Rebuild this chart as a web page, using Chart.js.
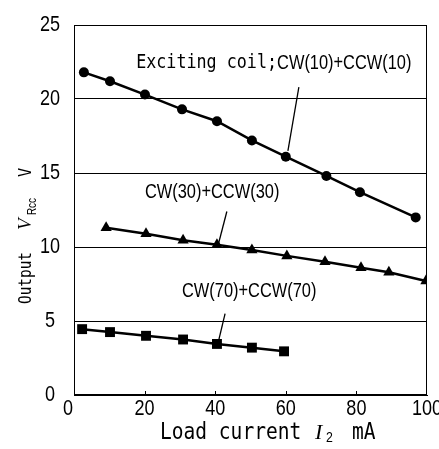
<!DOCTYPE html>
<html>
<head>
<meta charset="utf-8">
<script src="https://cdn.jsdelivr.net/npm/chart.js@4.4.0/dist/chart.umd.min.js"></script>
<style>
  html, body { margin: 0; padding: 0; background: #fff; }
</style>
</head>
<body>
<canvas id="chart" width="439" height="449"></canvas>
<script>
// Load current I2 (mA) and output V_Rcc (V) for each coil winding
const current10 = [2.8, 10.2, 20.1, 30.6, 40.5, 50.4, 60.0, 71.5, 81.0, 96.8];
const output10  = [21.8, 21.2, 20.3, 19.3, 18.5, 17.2, 16.1, 14.8, 13.7, 12.0];

const current30 = [9.1, 20.4, 30.9, 40.5, 50.4, 60.3, 71.1, 81.3, 89.2, 99.7];
const output30  = [11.3, 10.9, 10.45, 10.15, 9.8, 9.4, 9.0, 8.6, 8.3, 7.7];

const current70 = [2.3, 10.2, 20.4, 30.9, 40.5, 50.4, 59.5];
const output70  = [4.45, 4.25, 4.0, 3.75, 3.45, 3.2, 2.95];

const xTicks = [0, 20, 40, 60, 80, 100];
const yTicks = [0, 5, 10, 15, 20, 25];

const toPoints = (xs, ys) => xs.map((x, i) => ({ x: x, y: ys[i] }));

const SANS = "'Liberation Sans', Arial, sans-serif";
const MONO = "'DejaVu Sans Mono', 'Liberation Mono', monospace";
const NARROW_X = 0.82;   // horizontal squeeze to imitate the narrow gothic face

// draw text squeezed horizontally; align 'left' or 'center'
function drawText(ctx, str, x, y, font, sx, align) {
    ctx.save();
    ctx.font = font;
    ctx.textAlign = align || 'left';
    ctx.textBaseline = 'middle';
    ctx.translate(x, y);
    ctx.scale(sx, 1);
    ctx.fillText(str, 0, 0);
    const w = ctx.measureText(str).width * sx;
    ctx.restore();
    return w;
}

// annotation labels with leader lines, all in data units
const notes = [
    { parts: [['Exciting coil;', '19px ' + MONO, 0.88], ['CW(10)+CCW(10)', '20px ' + SANS, NARROW_X]],
      at: [17.6, 22.4], leader: [[63.7, 20.8], [60.6, 16.5]] },
    { parts: [['CW(30)+CCW(30)', '20px ' + SANS, NARROW_X]],
      at: [20.1, 13.7], leader: [[43.3, 12.4], [40.8, 10.1]] },
    { parts: [['CW(70)+CCW(70)', '20px ' + SANS, NARROW_X]],
      at: [30.6, 7.0], leader: [[42.8, 5.5], [40.8, 3.5]] }
];

const decorations = {
    id: 'decorations',
    afterDatasetsDraw(chart) {
        const ctx = chart.ctx;
        const a = chart.chartArea;
        const xs = chart.scales.x, ys = chart.scales.y;
        ctx.save();
        ctx.strokeStyle = '#000';
        ctx.fillStyle = '#000';
        ctx.lineWidth = 1;
        ctx.strokeRect(Math.round(a.left) + 0.5, Math.round(a.top) + 0.5,
                       Math.round(a.right - a.left) - 1, Math.round(a.bottom - a.top) - 1);

        // small inward ticks on the x axis
        xTicks.slice(1, -1).forEach(v => {
            const px = Math.round(xs.getPixelForValue(v)) + 0.5;
            ctx.beginPath();
            ctx.moveTo(px, a.bottom);
            ctx.lineTo(px, a.bottom - 4);
            ctx.stroke();
        });

        // tick labels
        const tickFont = '22px ' + SANS;
        xTicks.forEach(v => {
            const px = xs.getPixelForValue(v) - (v === 0 ? 6 : 0);
            drawText(ctx, String(v), px, a.bottom + 14, tickFont, NARROW_X, 'center');
        });
        yTicks.forEach(v => {
            drawText(ctx, String(v), 50, ys.getPixelForValue(v), tickFont, NARROW_X, 'center');
        });

        // annotations
        ctx.lineWidth = 1.3;
        notes.forEach(n => {
            let x = xs.getPixelForValue(n.at[0]);
            const y = ys.getPixelForValue(n.at[1]);
            n.parts.forEach(p => { x += drawText(ctx, p[0], x, y, p[1], p[2]); });
            ctx.beginPath();
            ctx.moveTo(xs.getPixelForValue(n.leader[0][0]), ys.getPixelForValue(n.leader[0][1]));
            ctx.lineTo(xs.getPixelForValue(n.leader[1][0]), ys.getPixelForValue(n.leader[1][1]));
            ctx.stroke();
        });

        // x axis title: Load current I2 mA
        const ty = 433;
        drawText(ctx, 'Load current', 160, ty, '23px ' + MONO, 0.85);
        drawText(ctx, 'I', 315, ty, 'italic 22px "Liberation Serif", serif', 1);
        drawText(ctx, '2', 326, ty + 5, '15px ' + SANS, NARROW_X);
        drawText(ctx, 'mA', 352, ty, '23px ' + MONO, 0.85);

        // y axis title, rotated: Output V_Rcc V
        ctx.save();
        ctx.translate(26, 304);
        ctx.rotate(-Math.PI / 2);
        drawText(ctx, 'Output', 0, 0, '18px ' + MONO, 0.8);
        drawText(ctx, 'V', 74, 0, 'italic 19px "Liberation Serif", serif', 1);
        drawText(ctx, 'Rcc', 89, 7, '12px ' + SANS, NARROW_X);
        drawText(ctx, 'V', 127, 0, '18px ' + MONO, 0.85);
        ctx.restore();

        ctx.restore();
    }
};

const common = {
    showLine: true,
    borderColor: '#000',
    backgroundColor: '#000',
    borderWidth: 2.5,
    pointBorderWidth: 0,
    tension: 0
};

new Chart(document.getElementById('chart'), {
    type: 'scatter',
    data: {
        datasets: [
            { ...common, label: 'CW(10)+CCW(10)', data: toPoints(current10, output10), pointStyle: 'circle', pointRadius: 5 },
            { ...common, label: 'CW(30)+CCW(30)', data: toPoints(current30, output30), pointStyle: 'triangle', pointRadius: 6.5 },
            { ...common, label: 'CW(70)+CCW(70)', data: toPoints(current70, output70), pointStyle: 'rect', pointRadius: 7 }
        ]
    },
    options: {
        responsive: false,
        animation: false,
        devicePixelRatio: 1,
        layout: { padding: { top: 25, right: 12, left: 0, bottom: 0 } },
        plugins: { legend: { display: false }, tooltip: { enabled: false } },
        scales: {
            x: {
                type: 'linear', min: 0, max: 100,
                afterBuildTicks: s => { s.ticks = xTicks.map(v => ({ value: v })); },
                ticks: { display: false },
                grid: { drawOnChartArea: false, drawTicks: false },
                border: { color: '#000', width: 1 },
                afterFit: s => { s.height = 54; s.paddingLeft = 0; s.paddingRight = 0; }
            },
            y: {
                type: 'linear', min: 0, max: 25,
                afterBuildTicks: s => { s.ticks = yTicks.map(v => ({ value: v })); },
                ticks: { display: false },
                grid: { color: '#000', lineWidth: 1, drawTicks: false },
                border: { color: '#000', width: 1 },
                afterFit: s => { s.width = 74; s.paddingTop = 0; s.paddingBottom = 0; }
            }
        }
    },
    plugins: [decorations]
});
</script>
</body>
</html>
